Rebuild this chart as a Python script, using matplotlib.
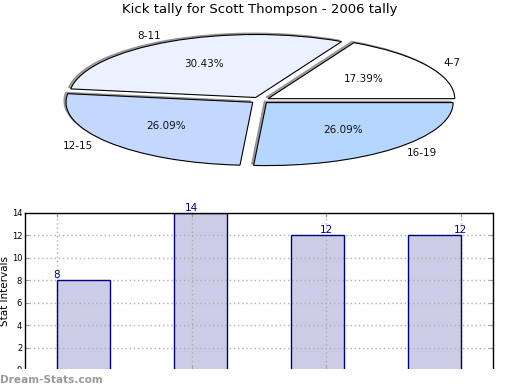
import numpy as np
import matplotlib
matplotlib.use('Agg')
import matplotlib.pyplot as plt
from matplotlib.patches import Rectangle

# kick tally by distance interval
intervals = ['4-7', '8-11', '12-15', '16-19']
kicks = [8, 14, 12, 12]
pie_colors = ['#ffffff', '#eaf1ff', '#c4d8ff', '#b4d6ff']

title = 'Kick tally for Scott Thompson - 2006 tally'
ylabel = 'Stat Intervals'
y_ticks = [0, 2, 4, 6, 8, 10, 12, 14]


def draw_pie(fig):
    ax = fig.add_axes([0.069, 0.549, 0.862, 0.3877])
    ax.pie(kicks, labels=intervals, colors=pie_colors, startangle=0,
           explode=[0.05] * len(kicks), autopct='%.2f%%',
           shadow={'ox': -0.008, 'oy': 0.016, 'facecolor': '#7a7a7a',
                   'edgecolor': '#7a7a7a', 'alpha': 0.7},
           wedgeprops={'edgecolor': 'black', 'linewidth': 0.8},
           textprops={'fontsize': 7.5, 'color': '#111111'})
    ax.set_aspect('auto')
    ax.set_xlim(-1.2, 1.2)
    ax.set_ylim(-1.2, 1.2)
    ax.axis('off')


def draw_bars(fig):
    width = 0.45
    ind = np.arange(len(kicks))
    ticks = np.linspace(0, len(kicks) - 1 + width, len(kicks))

    ax = fig.add_axes([0.048, 0.0513, 0.9, 0.4026])
    # fill under the grid, outline above it
    ax.bar(ind, kicks, width, align='edge', color='#ccccE6',
           edgecolor='none', zorder=1)
    ax.bar(ind, kicks, width, align='edge', fill=False,
           edgecolor='#000080', linewidth=1, zorder=4)
    for t, v in zip(ticks, kicks):
        ax.text(t, v, str(v), ha='center', va='bottom', fontsize=7.5,
                color='#000099', zorder=5)

    ax.set_xlim(-0.2735, 3.726)
    ax.set_ylim(0, 14)
    ax.set_xticks(ticks)
    ax.set_xticklabels([])
    ax.set_yticks(y_ticks)
    ax.tick_params(axis='y', labelsize=6, length=3, direction='in',
                   color='#999999', right=True, pad=2)
    ax.tick_params(axis='x', length=3, direction='in', color='#999999',
                   top=True)
    ax.set_axisbelow(False)
    ax.grid(True, linestyle=(0, (1, 2)), color='#b0b0b0', linewidth=1)
    for s in ax.spines.values():
        s.set_linewidth(1)
        s.set_zorder(6)
    ax.set_ylabel(ylabel, fontsize=7.5, labelpad=1)


def main():
    fig = plt.figure(figsize=(5.2, 3.9), dpi=100)
    fig.text(0.5, 1 - 10.0 / 390, title, ha='center', va='center',
             fontsize=9.5)
    draw_pie(fig)
    draw_bars(fig)

    # footer band with the site mark
    fig.add_artist(Rectangle((0, 0), 1, 21.5 / 390, transform=fig.transFigure,
                             facecolor='white', edgecolor='none', zorder=10))
    fig.text(0.0, 10.0 / 390, 'Dream-Stats.com', ha='left', va='center',
             fontsize=7.6, color='#999999', fontweight='bold', zorder=11)
    fig.savefig('out.png', dpi=100)


if __name__ == '__main__':
    main()
